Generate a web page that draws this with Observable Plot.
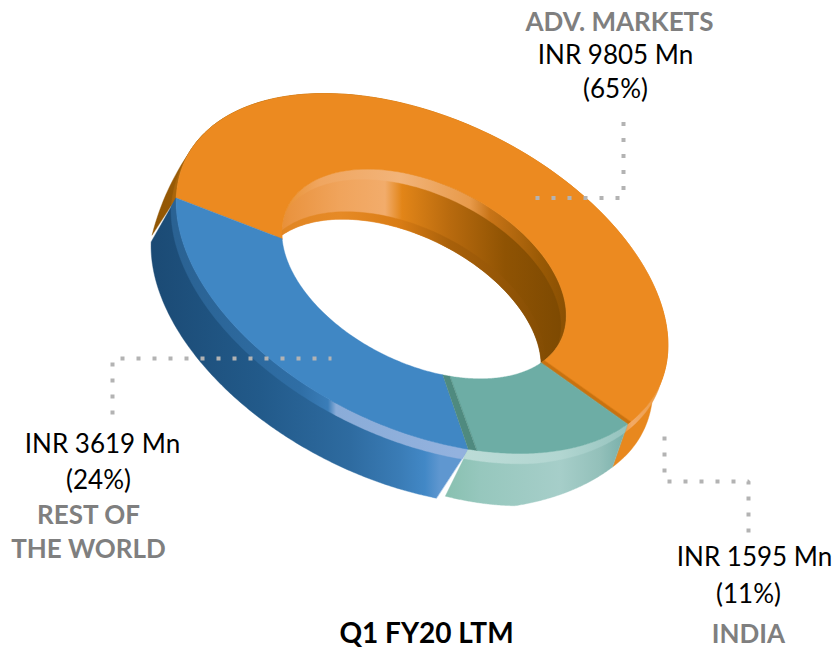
<!DOCTYPE html>
<html>
<head>
<meta charset="utf-8">
<style>html,body{margin:0;padding:0;background:#fff}</style>
<script src="https://cdn.jsdelivr.net/npm/d3@7"></script>
<script src="https://cdn.jsdelivr.net/npm/@observablehq/plot@0.6"></script>
</head>
<body>
<script>
// Data, clockwise from the India slice
const segments = ["INDIA", "REST OF THE WORLD", "ADV. MARKETS"];
const valuesMn = [1595, 3619, 9805];

// Text labels
const labelText = ["ADV. MARKETS","INR 9805 Mn","(65%)","INR 3619 Mn","(24%)","REST OF","THE WORLD","INR 1595 Mn","(11%)","INDIA","Q1 FY20 LTM"];
const labelX    = [619,615,615,102,98,88,88,754,748,748,426];
const labelY    = [30,63,97,452,488,523,557,565,602,642,642];
const labelKind = ["head","val","val","val","val","head","head","val","val","head","title"];

// Leader lines (annotation paths)
const leaderId = [0,0,0,1,1,1,2,2,2,2];
const leaderX  = [535,623,623,112,112,331,664,664,748,748];
const leaderY  = [197.5,197.5,121,414,358,358,436,481,481,533];

// Drawing geometry of the tilted ring
const rad = Math.PI/180;
const outerE = {cx:422, cy:273.5, a:262.6, b:154.7, rot:25.7};
const innerE = {cx:424, cy:274, a:152, b:90, rot:26};
const holeDepth = [-25, 50];
const t0 = 78, persp = 1.25, phiStart = -50;
const innerTwist = [0.9, 3, -5.4, 0.9];

function pt(e, t){
  const c=Math.cos(e.rot*rad), s=Math.sin(e.rot*rad);
  const u=e.a*Math.cos(t*rad), v=e.b*Math.sin(t*rad);
  return [e.cx+u*c-v*s, e.cy+u*s+v*c];
}
const warp = phi => t0 + 2*Math.atan2(persp*Math.sin(phi*rad/2), Math.cos(phi*rad/2))/rad;
const total = d3.sum(valuesMn);
const phis = [phiStart];
valuesMn.forEach((v,i)=>phis.push(phis[i]+v/total*360));
const T = phis.map(warp);
T[3] = T[0]+360;
const TI = T.map((t,i)=>t+innerTwist[i]);

// wall depth changes round the ring (perspective of the extrusion)
const depthDomain = [T[0],T[0]+28,T[1],T[1]+0.01,T[1]+3,T[2]-0.01,T[2],T[2]+15,T[2]+30,T[2]+100,T[2]+165,T[3]];
const depthXAt = d3.scaleLinear().domain(depthDomain).range([-15,-25,-23,-32,-25,-25,-24,-9,0,-5,-15,-15]);
const depthYAt = d3.scaleLinear().domain(depthDomain).range([43,53,47,49,50,44,37,14,0,30,43,43]);

// rows joining two curves
function band(n, f1, f2){
  return d3.range(n+1).map(i=>{
    const f=i/n, p=f1(f), q=f2(f);
    return {x1:p[0],y1:p[1],x2:q[0],y2:q[1]};
  });
}
const lerp=(a,b,f)=>a+(b-a)*f;
const outerArc=(a,b)=>f=>pt(outerE,lerp(a,b,f));
const innerArc=(a,b)=>f=>pt(innerE,lerp(a,b,f));

function wall(a,b,k0=0,k1=1){
  const at=(f,k)=>{
    // stay just inside the slice so each wall reads its own depth branch
    const t=lerp(a,b,f), p=pt(outerE,t);
    const td=(f===1&&b===T[2])?t-0.02:(f===0&&a===T[1]&&b===T[2])?t+0.02:t;
    return [p[0]+depthXAt(td)*k,p[1]+depthYAt(td)*k];
  };
  return band(160,f=>at(f,k0),f=>at(f,k1));
}
function innerWall(k0,k1){
  const arc=innerArc(TI[2]-360,TI[0]);
  const at=(f,k)=>{const p=arc(f);return [p[0]+holeDepth[0]*k,p[1]+holeDepth[1]*k];};
  return band(120,f=>at(f,k0),f=>at(f,k1));
}
function face(a,b,c,d){ return band(90,outerArc(a,b),innerArc(c,d)); }

const area = (rows,fill)=>Plot.area(rows,{x1:"x1",y1:"y1",x2:"x2",y2:"y2",fill,stroke:fill,strokeWidth:0.4});

// gradients
const gradients = {
  oWall:[[150,"#8f5503"],[215,"#a5610a"],[300,"#c97412"],[600,"#e8881e"]],
  oBevel:[[150,"#a5620a"],[215,"#b06a0c"],[615,"#e8881e"],[632,"#f2aa66"],[650,"#eea050"],[668,"#e8881e"]],
  bWall:[[150,"#1b4a74"],[260,"#225a8a"],[350,"#2e6ba0"],[400,"#3a7cb6"],[425,"#4288c6"],[440,"#5f97d0"]],
  bBevel:[[175,"#2a6293"],[300,"#2f6ea5"],[328,"#3a7db8"],[336,"#8aacd8"],[457,"#93b2de"]],
  tWall:[[440,"#86bfae"],[480,"#96c7bd"],[560,"#a6cec9"],[600,"#93c0ba"],[635,"#6ea9a4"]],
  tBevel:[[460,"#bcdcd7"],[560,"#b2d6d1"],[632,"#93c2bd"]],
  iWall:[[262,"#e08524"],[290,"#ea9440"],[340,"#f0a45c"],[385,"#f2ac6b"],[402,"#e28518"],[450,"#b86a0e"],[505,"#8f5303"],[560,"#7e4a02"]],
  iBevel:[[280,"#e9902f"],[320,"#f0a660"],[400,"#f2b47a"],[470,"#e89a4a"],[490,"#c87417"],[540,"#9a5a05"],[565,"#8a5003"]],
  iLip:[[262,"#df8422"],[340,"#e68a26"],[400,"#d97c14"],[450,"#a8600a"],[560,"#7e4a02"]]
};
function defsMark(){
  const defs=d3.create("svg:defs");
  for(const [id,stops] of Object.entries(gradients)){
    const g=defs.append("linearGradient").attr("id",id).attr("gradientUnits","userSpaceOnUse")
      .attr("x1",0).attr("y1",0).attr("x2",836).attr("y2",0);
    stops.forEach(([x,c])=>g.append("stop").attr("offset",x/836).attr("stop-color",c));
  }
  return defs.node();
}

const labels = labelText.map((text,i)=>({text,x:labelX[i],y:labelY[i],kind:labelKind[i]}));
const leaders = leaderX.map((x,i)=>({x,y:leaderY[i],id:leaderId[i]}));
const byKind = k => labels.filter(d=>d.kind===k);
const textMark=(k,fill,weight,size)=>Plot.text(byKind(k),{x:"x",y:"y",text:"text",fill,fontWeight:weight,fontSize:size,lineAnchor:"bottom",textAnchor:"middle"});

const chart = Plot.plot({
  width:836, height:649, margin:0,
  style:{background:"#fff",fontFamily:"Lato"},
  x:{domain:[0,836],range:[0,836],axis:null},
  y:{domain:[0,649],range:[0,649],axis:null},
  marks:[
    defsMark,
    // outer walls, rear to front
    area(wall(T[2],T[3]),"url(#oWall)"),
    area(wall(T[2],T[3],0,0.2),"url(#oBevel)"),
    area(wall(T[1]+0.01,T[2]),"url(#bWall)"),
    area(wall(T[1]+0.01,T[2],0,0.2),"url(#bBevel)"),
    area(wall(T[0],T[1]),"url(#tWall)"),
    area(wall(T[0],T[1],0,0.2),"url(#tBevel)"),
    // hole's inner wall
    area(innerWall(0,1),"url(#iWall)"),
    area(innerWall(0,0.2),"url(#iBevel)"),
    area(innerWall(0.85,1),"url(#iLip)"),
    // top faces
    area(face(T[2],T[3],TI[2],TI[3]),"#ec8a20"),
    area(face(T[1],T[2],TI[1],TI[2]),"#4087c4"),
    area(face(T[0]-1.3,T[0],TI[0]-2.2,TI[0]),"#c9720f"),
    area(face(T[0],T[1]-2,TI[0],TI[1]-2.8),"#6dada5"),
    area(face(T[1]-2,T[1],TI[1]-2.8,TI[1]),"#4f8a7f"),
    // leaders
    Plot.line(leaders,{x:"x",y:"y",z:"id",stroke:"#b3b3b3",strokeWidth:4,strokeDasharray:"4 12",strokeLinecap:"butt",strokeLinejoin:"miter"}),
    // labels
    textMark("val","#000",400,26),
    textMark("head","#7f7f7f",700,26),
    textMark("title","#000",700,28)
  ]
});
document.body.appendChild(chart);
</script>
</body>
</html>
